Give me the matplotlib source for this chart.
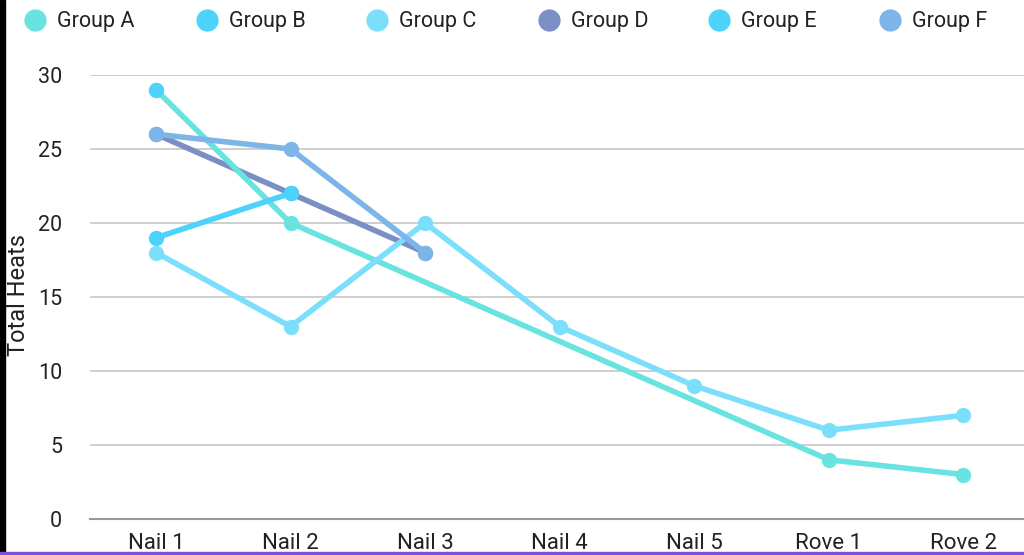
import numpy as np
import matplotlib.pyplot as plt
from matplotlib.patches import Rectangle

plt.rcParams['font.family'] = ['Roboto', 'DejaVu Sans']

# data (None = no value for that stage)
stages = ['Nail 1', 'Nail 2', 'Nail 3', 'Nail 4', 'Nail 5', 'Rove 1', 'Rove 2']
groups = ['Group A', 'Group B', 'Group C', 'Group D', 'Group E', 'Group F']
group_a = [29, 20, None, None, None, 4, 3]
group_b = [19, 22, None, None, None, None, None]
group_c = [18, 13, 20, 13, 9, 6, 7]
group_d = [26, 22, 18, None, None, None, None]
group_e = [29, None, None, None, None, None, None]
group_f = [26, 25, 18, None, None, None, None]
series = [group_a, group_b, group_c, group_d, group_e, group_f]
colors = ['#68e3e0', '#4dd3fb', '#7bdffb', '#7b8fc4', '#4dd3fb', '#7db5e8']
# drawing order, bottom to top
layer = [2, 3, 4, 1, 5, 6]

fig = plt.figure(figsize=(10.24, 5.55), dpi=100)
ax = fig.add_axes([0.0879, 0.0649, 0.9121, 0.80])

x = np.arange(len(stages))
for vals, col, z in zip(series, colors, layer):
    # missing stages are skipped, the line joins the points either side
    xs = [i for i, v in zip(x, vals) if v is not None]
    ys = [v for v in vals if v is not None]
    ax.plot(xs, ys, color=col, lw=4, marker='o', ms=10,
            solid_capstyle='round', clip_on=False, zorder=3 + z)

ax.set_xlim(-0.49, 6.45)
ax.set_ylim(0, 30)
ax.set_yticks(range(0, 31, 5))
ax.set_xticks(x)
ax.set_xticklabels(stages, fontsize=16)
for lab in ax.get_yticklabels():
    lab.set_fontsize(15.5)
ax.tick_params(length=0, colors='#222222')
ax.tick_params(axis='y', pad=20)
ax.tick_params(axis='x', pad=10)
ax.grid(axis='y', color='#cccccc', lw=1.3)
ax.set_axisbelow(True)
for s in ['top', 'right', 'left']:
    ax.spines[s].set_visible(False)
ax.spines['bottom'].set_color('#999999')
ax.spines['bottom'].set_linewidth(1.5)

fig.text(0.0185, 0.468, 'Total Heats', rotation=90, ha='center', va='center',
         fontsize=17, color='#222222')

# legend across the top
legend_x = [35, 207, 377, 549, 719, 890]
for gx, name, col in zip(legend_x, groups, colors):
    fig.lines.append(plt.Line2D([gx / 1024], [1 - 20 / 555], marker='o', ms=15,
                                color=col, lw=0, transform=fig.transFigure))
    fig.text((gx + 22) / 1024, 1 - 21 / 555, name, ha='left', va='center',
             fontsize=15.5, color='#222222')

# screenshot borders
fig.patches.append(Rectangle((0, 0), 5 / 1024, 1, transform=fig.transFigure,
                             color='black'))
fig.patches.append(Rectangle((0, 0), 1, 3 / 555, transform=fig.transFigure,
                             color='#7b4fd6'))

fig.savefig('out.png', dpi=100)
